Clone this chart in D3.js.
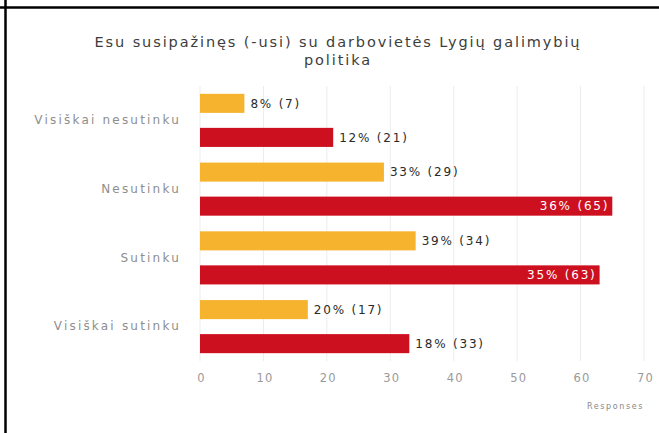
<!DOCTYPE html>
<html>
<head>
<meta charset="utf-8">
<script src="https://cdn.jsdelivr.net/npm/d3@7"></script>
<style>
  html, body { margin: 0; padding: 0; background: #fff; }
  svg { display: block; font-family: "DejaVu Sans", Verdana, sans-serif; }
</style>
</head>
<body>
<svg id="chart" width="659" height="433"></svg>
<script>
// Survey answers (top to bottom)
const categories = ["Visiškai nesutinku", "Nesutinku", "Sutinku", "Visiškai sutinku"];
const seriesNames = ["A", "B"];
// Response counts per answer
const countsA = [7, 29, 34, 17];
const countsB = [21, 65, 63, 33];
// Shares shown in the labels
const percentA = [8, 33, 39, 20];
const percentB = [12, 36, 35, 18];
const xTicks = [0, 10, 20, 30, 40, 50, 60, 70];
const titleLines = ["Esu susipažinęs (-usi) su darbovietės Lygių galimybių", "politika"];
const axisTitle = "Responses";

const colors = { A: "#F6B42E", B: "#CD1020" };

const svg = d3.select("#chart");

// frame lines
svg.append("line").attr("x1", 0).attr("x2", 659).attr("y1", 7.5).attr("y2", 7.5)
  .attr("stroke", "#000").attr("stroke-width", 2.5);
svg.append("line").attr("x1", 5.5).attr("x2", 5.5).attr("y1", 0).attr("y2", 433)
  .attr("stroke", "#000").attr("stroke-width", 2.5);

const plot = { left: 200, right: 644, top: 86, bottom: 361 };

const x = d3.scaleLinear().domain([0, 70]).range([plot.left, plot.right]);
const y = d3.scaleBand().domain(categories).range([plot.top, plot.bottom]).padding(0);
const ySub = d3.scaleBand().domain(seriesNames).range([0, y.bandwidth()])
  .paddingInner(0.44).paddingOuter(0.23);

// title
svg.append("g").selectAll("text").data(titleLines).join("text")
  .attr("x", 338).attr("y", (d, i) => 47 + i * 18)
  .attr("text-anchor", "middle")
  .attr("font-size", 14.5).attr("letter-spacing", 1.9).attr("fill", "#3d3d3d")
  .text(d => d);

// vertical grid
svg.append("g").selectAll("line").data(xTicks).join("line")
  .attr("x1", d => x(d)).attr("x2", d => x(d))
  .attr("y1", plot.top).attr("y2", plot.bottom)
  .attr("stroke", "#ececec").attr("stroke-width", 1);

// x axis labels
const xAxis = d3.axisBottom(x).tickValues(xTicks).tickSize(0).tickPadding(0);
const gx = svg.append("g").attr("transform", `translate(1,${plot.bottom + 13})`).call(xAxis);
gx.select(".domain").remove();
gx.selectAll("text").attr("font-size", 11.5).attr("letter-spacing", 1.2).attr("fill", "#9a9a9a")
  .attr("font-family", "DejaVu Sans, Verdana, sans-serif");

svg.append("text").attr("x", plot.right).attr("y", 409)
  .attr("text-anchor", "end").attr("font-size", 8).attr("letter-spacing", 1.6).attr("fill", "#888")
  .text(axisTitle);

// y axis labels
const yAxis = d3.axisLeft(y).tickSize(0).tickPadding(19);
const gy = svg.append("g").attr("transform", `translate(${plot.left},0)`).call(yAxis);
gy.select(".domain").remove();
gy.selectAll("text").attr("font-size", 12).attr("letter-spacing", 2.2).attr("fill", "#8e8e8e")
  .attr("font-family", "DejaVu Sans, Verdana, sans-serif");

// bars
const rows = [];
categories.forEach((c, i) => {
  rows.push({ cat: c, s: "A", v: countsA[i], p: percentA[i] });
  rows.push({ cat: c, s: "B", v: countsB[i], p: percentB[i] });
});

const g = svg.append("g");
g.selectAll("rect").data(rows).join("rect")
  .attr("x", x(0))
  .attr("y", d => y(d.cat) + ySub(d.s))
  .attr("width", d => x(d.v) - x(0))
  .attr("height", ySub.bandwidth())
  .attr("fill", d => colors[d.s]);

// value labels: inside the bar when it is long, otherwise after it
const insideLimit = 60;
g.selectAll("text").data(rows).join("text")
  .attr("x", d => d.v >= insideLimit ? x(d.v) - 3 : x(d.v) + 6)
  .attr("y", d => y(d.cat) + ySub(d.s) + ySub.bandwidth() / 2)
  .attr("dy", "0.36em")
  .attr("text-anchor", d => d.v >= insideLimit ? "end" : "start")
  .attr("font-size", 12)
  .attr("letter-spacing", 1.8)
  .attr("fill", d => d.v >= insideLimit ? "#fff" : "#2a2a2a")
  .text(d => `${d.p}% (${d.v})`);
</script>
</body>
</html>
